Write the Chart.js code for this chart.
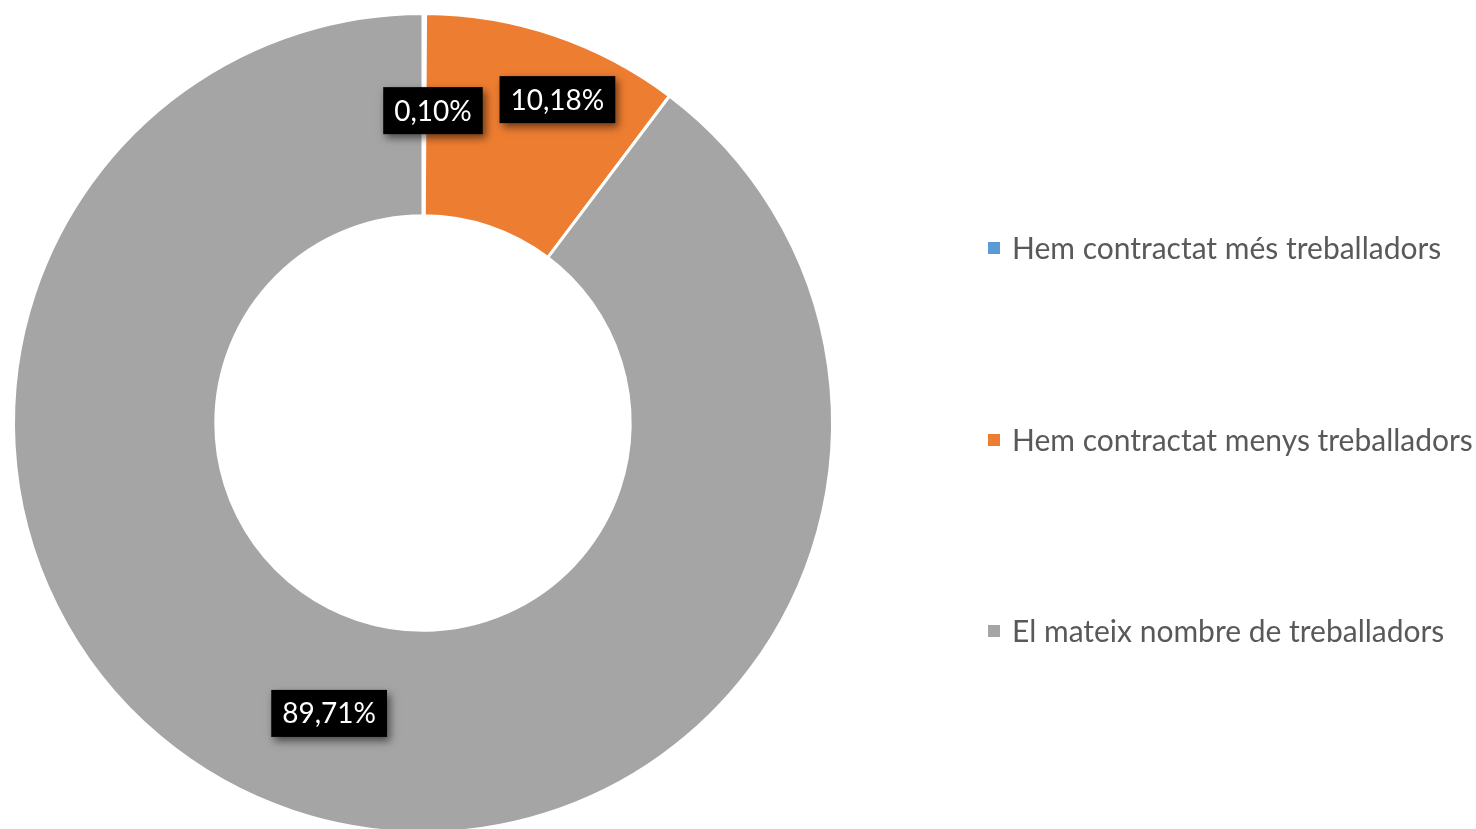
<!DOCTYPE html>
<html>
<head>
<meta charset="utf-8">
<script src="https://cdn.jsdelivr.net/npm/chart.js@4"></script>
<style>
  html, body { margin: 0; padding: 0; background: #fff; overflow: hidden; }
  #wrap { width: 1476px; height: 829px; position: relative; overflow: hidden; }
  #box { width: 1476px; height: 840px; position: absolute; left: 0; top: 0; }
</style>
</head>
<body>
<div id="wrap"><div id="box"><canvas id="chartDonut"></canvas></div></div>
<script>
var categories = ['Hem contractat més treballadors', 'Hem contractat menys treballadors', 'El mateix nombre de treballadors'];
var percentages = [0.10, 10.18, 89.71];
var valueLabels = ['0,10%', '10,18%', '89,71%'];
var colors = ['#5B9BD5', '#ED7D31', '#A5A5A5'];

var FONT = "Lato, 'Liberation Sans', sans-serif";

// black boxes with white % text, like the Excel data labels
var boxLabels = {
    id: 'boxLabels',
    afterDatasetsDraw: function (chart) {
        var ctx = chart.ctx;
        var meta = chart.getDatasetMeta(0);
        ctx.save();
        ctx.font = '28px ' + FONT;
        meta.data.forEach(function (arc, i) {
            var p = arc.getProps(['x', 'y', 'startAngle', 'endAngle', 'innerRadius', 'outerRadius'], true);
            var mid = (p.startAngle + p.endAngle) / 2;
            var r = (p.innerRadius + p.outerRadius) / 2;
            if (i === 1) { mid += 0.07; r += 40; } // excel nudged this one outward
            var cx = p.x + Math.cos(mid) * r;
            var cy = p.y + Math.sin(mid) * r;
            if (i === 0) { cx += 9; cy -= 4; }
            if (i === 1) { cy -= 2; }
            if (i === 2) { cx += 4; cy -= 2; }
            var txt = valueLabels[i];
            var w = ctx.measureText(txt).width + 22;
            var h = 47;
            ctx.shadowColor = 'rgba(0,0,0,0.55)';
            ctx.shadowBlur = 8;
            ctx.shadowOffsetX = 3;
            ctx.shadowOffsetY = 4;
            ctx.fillStyle = '#000';
            ctx.fillRect(cx - w / 2, cy - h / 2, w, h);
            ctx.shadowColor = 'transparent';
            ctx.fillStyle = '#fff';
            ctx.textAlign = 'center';
            ctx.textBaseline = 'middle';
            ctx.fillText(txt, cx, cy + 1);
        });
        ctx.restore();
    }
};

// legend on the right, spread out like the original
var sideLegend = {
    id: 'sideLegend',
    afterDraw: function (chart) {
        var ctx = chart.ctx;
        var ys = [248, 440, 631];
        ctx.save();
        ctx.font = '30px ' + FONT;
        ctx.textBaseline = 'middle';
        ctx.textAlign = 'left';
        chart.data.labels.forEach(function (lbl, i) {
            ctx.fillStyle = colors[i];
            ctx.fillRect(988, ys[i] - 6, 12, 12);
            ctx.fillStyle = '#595959';
            ctx.fillText(lbl, 1012, ys[i] + 1);
        });
        ctx.restore();
    }
};

var ourDonut = document.getElementById('chartDonut');

var donutChart = new Chart(ourDonut, {
    type: 'doughnut',
    data: {
        labels: categories,
        datasets: [
            {
                data: percentages,
                backgroundColor: colors,
                borderColor: '#ffffff',
                borderWidth: 3
            }
        ]
    },
    options: {
        responsive: true,
        maintainAspectRatio: false,
        animation: false,
        cutout: '50.6%',
        layout: {
            padding: { left: 12, right: 642, top: 12, bottom: 6 }
        },
        plugins: {
            legend: { display: false },
            tooltip: { enabled: false }
        }
    },
    plugins: [boxLabels, sideLegend]
});
</script>
</body>
</html>
